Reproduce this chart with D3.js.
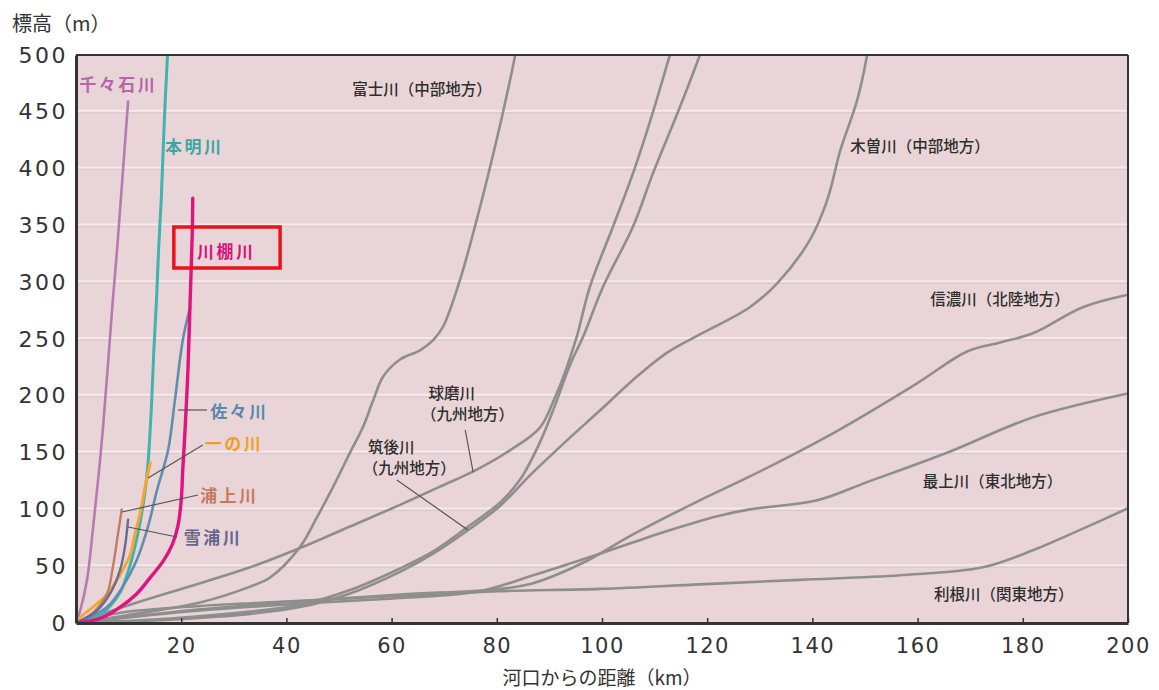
<!DOCTYPE html>
<html><head><meta charset="utf-8">
<script src="https://cdn.jsdelivr.net/npm/d3@7"></script>
<style>body{margin:0;background:#fff;} svg{display:block;}</style>
</head><body><svg id="c" width="1159" height="690"></svg>
<script>
// ---- axis data ----
const xTicks = [20,40,60,80,100,120,140,160,180,200];
const yTicks = [0,50,100,150,200,250,300,350,400,450,500];
const gridValues = [50,100,150,200,250,300,350,400,450];

// ---- gray rivers (km, m) ----
const fujiKm = [0,14.1,23.6,33.1,36.9,42.6,45.8,48.9,52.1,54.6,56.5,58.4,61.6,65.4,67.9,69.8,73.0,75.9,78.7,81.2,83.5,84.0];
const fujiM  = [0,10,18,32,40,67,93,120,150,173,196,217,232,240,249,261,302,350,401,450,500,513];
const kumaKm = [0,11.6,23.6,33.1,42.6,52.1,61.6,69.2,76.2,82.5,88.2,91.1,93.0,95.2,97.7,102.1,105.9,109.7,112.9,113.5];
const kumaM  = [0,18,35,49,66,85,104,120,135,152,172,199,221,252,296,349,396,450,500,509];
const chikugoKm = [0,17.9,33.1,42.6,52.1,61.6,67.9,74.3,80.6,84.4,88.2,91.1,93.9,96.4,100.2,105.9,109.7,114.8,118.6,119.4];
const chikugoM  = [0,4,10,16,29,48,63,84,106,126,159,192,227,252,296,349,396,454,500,511];
const kisoKm = [0,17.9,33.1,42.6,52.1,61.6,67.9,74.3,80.6,86.3,93.4,99.6,105.9,112.4,118.6,128.1,133.3,139.5,142.8,145.3,148.5,150.4,150.8];
const kisoM  = [0,3,8,14,26,45,61,81,103,130,161,187,214,238,254,278,299,337,372,416,460,500,513];
const shinanoKm = [0,23.6,42.6,61.6,80.6,86.9,96.4,105.9,118.6,128.1,143.9,159.9,169.4,175.7,181.9,191.4,200];
const shinanoM  = [0,12,19,25,30,35,53,78,108,129,167,211,239,247,255,278,289];
const mogamiKm = [0,23.6,42.6,61.6,76.8,86.9,99.6,112.4,121.9,128.1,140.9,150.4,166.2,181.9,200];
const mogamiM  = [0,11,17,22,28,42,61,81,94,100,108,124,151,181,202];
const toneKm = [0,8.4,23.6,40.7,61.6,80.6,99.6,118.6,137.6,156.7,172.4,181.9,190.9,200];
const toneM  = [0,9,15,19,24,28,30,34,38,42,49,64,82,101];

// ---- small rivers (km, m) ----
const chijiwaKm = [0,0.8,2.1,3.2,4.2,5.1,6.0,7.0,7.8,8.8,9.9];
const chijiwaM  = [0,11,38,82,126,170,223,284,328,390,459];
const honmyoKm = [0,3.6,6.5,8.4,9.9,11.2,12.2,13.1,13.7,14.1,14.4,14.8,15.3,15.7,16.2,16.8,17.4,17.6];
const honmyoM  = [0,4,15,27,45,67,89,115,141,170,196,240,284,328,372,443,500,513];
const sazaKm = [0,5.9,8.9,11.6,13.7,15.4,17.5,18.8,20.3,21.7];
const sazaM  = [0,14,32,56,85,117,152,196,249,278];
const ichinoKm = [0,0.8,2.7,4.0,5.5,7.0,8.7,10.3,11.2,12.2,13.1,14.1];
const ichinoM  = [0,5,12,17,23,32,45,60,78,97,119,141];
const urakamiKm = [0,3.2,5.9,7.0,8.0,8.7];
const urakamiM  = [0,9,26,49,79,100];
const yukiuraKm = [0,4.0,6.5,8.4,9.3,9.9];
const yukiuraM  = [0,11,26,47,67,91];
const kawatanaKm = [0,4.6,8.4,11.6,14.1,16.5,18.3,19.4,20.0,20.3,20.7,21.3,21.7,22.1,22.2];
const kawatanaM  = [0,4,14,26,40,54,69,86,108,135,167,225,284,343,374];

// ---- labels ----
const colorLabelTexts = ['千々石川','本明川','川棚川','佐々川','一の川','浦上川','雪浦川'];
const colorLabelKm = [0.6,16.9,23.0,25.5,24.5,23.6,20.5];
const colorLabelM  = [475,420,328,187,159,113,76];
const colorLabelColors = ['#b566a7','#3aa7a3','#d6137c','#5a88ad','#f29d2a','#c77a5c','#66668e'];

const grayLabelTexts = ['富士川（中部地方）','木曽川（中部地方）','信濃川（北陸地方）','最上川（東北地方）','利根川（関東地方）','球磨川','（九州地方）','筑後川','（九州地方）'];
const grayLabelKm = [52.5,147.2,162.4,161.0,163.1,67.0,65.6,55.5,54.5];
const grayLabelM  = [471,421,286,126,26,203,185,156,137];

// pointer lines [km1,m1,km2,m2]
const pointerKm1 = [19.4,13.7,8.75,9.9,75.5,74.5];
const pointerM1  = [187.5,127.6,97.7,84.5,132.9,81.9];
const pointerKm2 = [24.9,24.1,23.2,19.2,74.0,61.0];
const pointerM2  = [187.5,156.7,112.7,75.7,169.9,125.9];

// highlight box
const boxKm = [18.6,38.8];
const boxM  = [312.5,348.6];

// ---- drawing ----
const svg = d3.select('#c');
const x = d3.scaleLinear().domain([0,200]).range([76,1128]);
const y = d3.scaleLinear().domain([0,500]).range([623,55]);

const jp = '"Noto Sans CJK JP","Noto Sans",sans-serif';

svg.append('rect').attr('x',x(0)).attr('y',y(500)).attr('width',x(200)-x(0)).attr('height',y(0)-y(500)).attr('fill','#e9d5d8');

svg.append('defs').append('clipPath').attr('id','clip').append('rect')
  .attr('x',x(0)).attr('y',y(500)).attr('width',x(200)-x(0)).attr('height',y(0)-y(500));

const grid = svg.append('g');
gridValues.forEach(v=>{
  grid.append('line').attr('x1',x(0)).attr('x2',x(200)).attr('y1',y(v)-1).attr('y2',y(v)-1).attr('stroke','#f4e9eb').attr('stroke-width',2);
  grid.append('line').attr('x1',x(0)).attr('x2',x(200)).attr('y1',y(v)+1).attr('y2',y(v)+1).attr('stroke','#dcc5c9').attr('stroke-width',1);
});

const line = d3.line().x(d=>x(d[0])).y(d=>y(d[1])).curve(d3.curveCatmullRom.alpha(0.5));
const zip = (a,b)=>a.map((v,i)=>[v,b[i]]);

const series = [
  {km:toneKm,m:toneM,c:'#8e8e8e',w:2.6},
  {km:mogamiKm,m:mogamiM,c:'#8e8e8e',w:2.6},
  {km:shinanoKm,m:shinanoM,c:'#8e8e8e',w:2.6},
  {km:kisoKm,m:kisoM,c:'#8e8e8e',w:2.6},
  {km:chikugoKm,m:chikugoM,c:'#8e8e8e',w:2.6},
  {km:kumaKm,m:kumaM,c:'#8e8e8e',w:2.6},
  {km:fujiKm,m:fujiM,c:'#8e8e8e',w:2.6},
  {km:chijiwaKm,m:chijiwaM,c:'#b67aae',w:2.6},
  {km:honmyoKm,m:honmyoM,c:'#3fb4ae',w:3},
  {km:sazaKm,m:sazaM,c:'#5f8eb1',w:2.6},
  {km:ichinoKm,m:ichinoM,c:'#f5a632',w:3},
  {km:urakamiKm,m:urakamiM,c:'#c27c62',w:2.4},
  {km:yukiuraKm,m:yukiuraM,c:'#6c6a92',w:2.4},
  {km:kawatanaKm,m:kawatanaM,c:'#e0137f',w:3.4}
];
const lines = svg.append('g').attr('clip-path','url(#clip)');
series.forEach(s=>{
  lines.append('path').attr('d',line(zip(s.km,s.m))).attr('fill','none')
    .attr('stroke',s.c).attr('stroke-width',s.w).attr('stroke-linejoin','round').attr('stroke-linecap','round');
});

// pointers
pointerKm1.forEach((k,i)=>{
  svg.append('line').attr('x1',x(k)).attr('y1',y(pointerM1[i])).attr('x2',x(pointerKm2[i])).attr('y2',y(pointerM2[i]))
    .attr('stroke','#555').attr('stroke-width',1.2);
});

// colored labels
colorLabelTexts.forEach((t,i)=>{
  svg.append('text').attr('x',x(colorLabelKm[i])).attr('y',y(colorLabelM[i])).attr('dominant-baseline','central')
    .attr('font-family',jp).attr('font-weight','bold').attr('font-size',17).attr('letter-spacing','2.5px')
    .attr('fill',colorLabelColors[i]).text(t);
});
// gray labels
grayLabelTexts.forEach((t,i)=>{
  svg.append('text').attr('x',x(grayLabelKm[i])).attr('y',y(grayLabelM[i])).attr('dominant-baseline','central')
    .attr('font-family',jp).attr('font-size',15.5).attr('font-weight',500).attr('fill','#2e2e2e').text(t);
});

// highlight box
svg.append('rect').attr('x',x(boxKm[0])).attr('y',y(boxM[1])).attr('width',x(boxKm[1])-x(boxKm[0])).attr('height',y(boxM[0])-y(boxM[1]))
  .attr('fill','none').attr('stroke','#e8131b').attr('stroke-width',3.5);

// border
svg.append('line').attr('x1',x(0)).attr('x2',x(200)).attr('y1',y(500)).attr('y2',y(500)).attr('stroke','#333').attr('stroke-width',2);
svg.append('line').attr('x1',x(200)).attr('x2',x(200)).attr('y1',y(500)).attr('y2',y(0)).attr('stroke','#333').attr('stroke-width',2);

// axes
const xAxis = svg.append('g').attr('transform',`translate(0,${y(0)})`)
  .call(d3.axisBottom(x).tickValues(xTicks).tickSizeInner(-5).tickSizeOuter(0).tickPadding(15));
xAxis.select('.domain').attr('stroke','#333').attr('stroke-width',3);
xAxis.selectAll('.tick line').attr('stroke','#333').attr('stroke-width',1.5);
xAxis.selectAll('text').attr('font-family','"DejaVu Sans",sans-serif').attr('font-size',21).attr('letter-spacing','1.5px').attr('fill','#333');

const yAxis = svg.append('g').attr('transform',`translate(${x(0)},0)`)
  .call(d3.axisLeft(y).tickValues(yTicks).tickSizeInner(0).tickSizeOuter(0).tickPadding(8));
yAxis.select('.domain').attr('stroke','#333').attr('stroke-width',3);
yAxis.selectAll('text').attr('font-family','"DejaVu Sans",sans-serif').attr('font-size',22).attr('letter-spacing','2.5px').attr('fill','#333');

// titles
svg.append('text').attr('x',12).attr('y',22).attr('dominant-baseline','central')
  .attr('font-family',jp).attr('font-size',20).attr('fill','#333').text('標高（m）');
svg.append('text').attr('x',(x(0)+x(200))/2).attr('y',676).attr('dominant-baseline','central').attr('text-anchor','middle')
  .attr('font-family',jp).attr('font-size',19).attr('fill','#333').text('河口からの距離（km）');
</script></body></html>
